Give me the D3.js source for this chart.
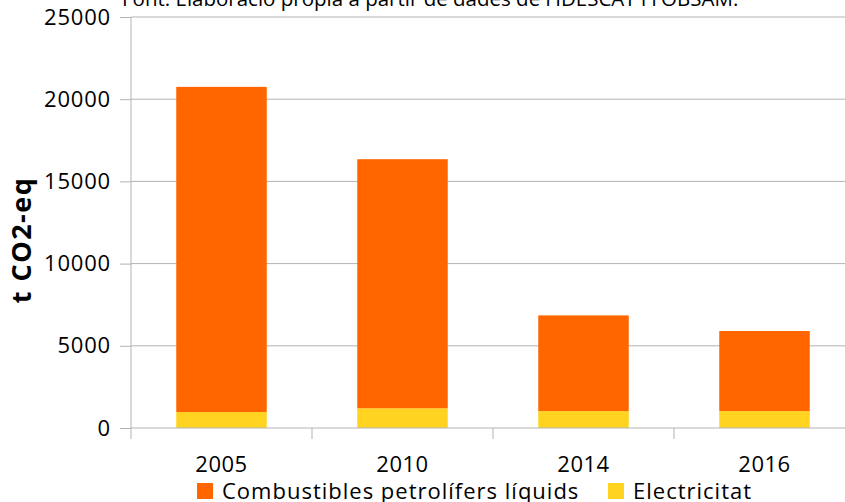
<!DOCTYPE html>
<html>
<head>
<meta charset="utf-8">
<script src="https://cdn.jsdelivr.net/npm/d3@7"></script>
<style>
  body { margin: 0; background: #fff; }
  svg { display: block; font-family: "Open Sans", sans-serif; }
</style>
</head>
<body>
<script>
// Data (t CO2-eq)
const years = ["2005", "2010", "2014", "2016"];
const electricitat = [970, 1200, 1030, 1030];
const combustibles = [19780, 15150, 5820, 4870];
const yTicks = [0, 5000, 10000, 15000, 20000, 25000];
const seriesNames = ["Combustibles petrolífers líquids", "Electricitat"];
const colors = {elec: "#ffd320", comb: "#ff6600"};

const W = 845, H = 502;
const plotLeft = 131, plotTop = 17, plotBottom = 428;
const step = 181;

const svg = d3.select("body").append("svg")
  .attr("width", W).attr("height", H);

const x = d3.scaleBand()
  .domain(years)
  .range([plotLeft, plotLeft + step * years.length])
  .paddingInner(0.5)
  .paddingOuter(0.25);

const y = d3.scaleLinear()
  .domain([0, 25000])
  .range([plotBottom, plotTop]);

// Gridlines
svg.append("g").selectAll("line")
  .data(yTicks.filter(d => d > 0))
  .join("line")
  .attr("x1", plotLeft).attr("x2", W)
  .attr("y1", d => y(d)).attr("y2", d => y(d))
  .attr("stroke", "#b3b3b3").attr("stroke-width", 1);

// Stacked bars
const rows = years.map((yr, i) => ({year: yr, elec: electricitat[i], comb: combustibles[i]}));
const stack = d3.stack().keys(["elec", "comb"])(rows);

svg.append("g").selectAll("g")
  .data(stack)
  .join("g")
  .attr("fill", d => colors[d.key])
  .selectAll("rect")
  .data(d => d)
  .join("rect")
  .attr("x", d => x(d.data.year))
  .attr("width", x.bandwidth())
  .attr("y", d => y(d[1]))
  .attr("height", d => y(d[0]) - y(d[1]));

// Y axis
const yAxis = svg.append("g").attr("transform", `translate(${plotLeft},0)`)
  .call(d3.axisLeft(y).tickValues(yTicks).tickSize(11).tickPadding(9).tickFormat(d3.format("d")));
yAxis.select(".domain").attr("stroke", "#b3b3b3").attr("d", `M0,${plotBottom}V${plotTop}`);
yAxis.selectAll(".tick line").attr("stroke", "#b3b3b3");
yAxis.selectAll(".tick text")
  .attr("font-size", 22).attr("fill", "#000")
  .attr("letter-spacing", 0.8)
  .attr("font-family", "Open Sans, sans-serif");

// X axis baseline and category separators
svg.append("line")
  .attr("x1", plotLeft).attr("x2", W)
  .attr("y1", plotBottom).attr("y2", plotBottom)
  .attr("stroke", "#b3b3b3");
svg.append("g").selectAll("line")
  .data(d3.range(years.length + 1))
  .join("line")
  .attr("x1", i => plotLeft + i * x.step()).attr("x2", i => plotLeft + i * x.step())
  .attr("y1", plotBottom).attr("y2", plotBottom + 11)
  .attr("stroke", "#b3b3b3");

svg.append("g").selectAll("text")
  .data(years)
  .join("text")
  .attr("x", d => x(d) + x.bandwidth() / 2)
  .attr("y", 472)
  .attr("text-anchor", "middle")
  .attr("font-size", 22)
  .attr("letter-spacing", 0.5)
  .text(d => d);

// Y label
svg.append("text")
  .attr("transform", "translate(31,240) rotate(-90)")
  .attr("text-anchor", "middle")
  .attr("font-size", 27)
  .attr("font-weight", "bold")
  .attr("letter-spacing", 1.5)
  .text("t CO2-eq");

// Source note, clipped at the top
svg.append("text")
  .attr("x", 122).attr("y", 6)
  .attr("font-size", 20.5)
  .text("Font: Elaboració pròpia a partir de dades de l'IDESCAT i l'OBSAM.");

// Legend
const legend = [
  {name: seriesNames[0], color: colors.comb, x: 197},
  {name: seriesNames[1], color: colors.elec, x: 608}
];
const lg = svg.append("g").selectAll("g")
  .data(legend)
  .join("g")
  .attr("transform", d => `translate(${d.x},483)`);
lg.append("rect").attr("width", 16).attr("height", 16).attr("fill", d => d.color);
lg.append("text").attr("x", 25).attr("y", 16).attr("font-size", 22)
  .attr("letter-spacing", 1).text(d => d.name);
</script>
</body>
</html>
